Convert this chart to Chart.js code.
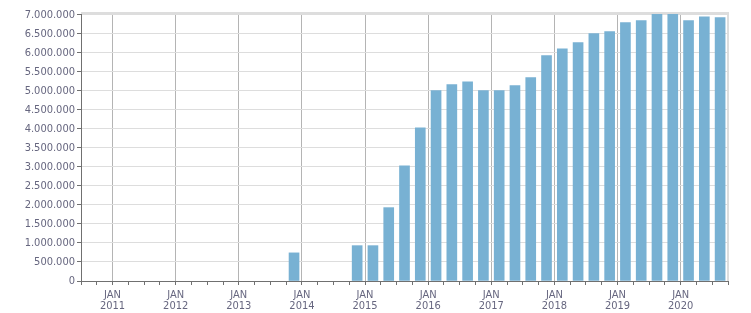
<!DOCTYPE html>
<html>
<head>
<meta charset="utf-8">
<script src="https://cdn.jsdelivr.net/npm/chart.js@4/dist/chart.umd.min.js"></script>
<style>
  html, body { margin: 0; padding: 0; background: #fff; }
  #wrap { width: 751px; height: 313px; }
</style>
</head>
<body>
<div id="wrap"><canvas id="chart"></canvas></div>
<script>
// quarterly values, Q3 2010 .. Q3 2020 (null = no bar)
const quarters = [
    '2010 Q3', '2010 Q4',
    '2011 Q1', '2011 Q2', '2011 Q3', '2011 Q4',
    '2012 Q1', '2012 Q2', '2012 Q3', '2012 Q4',
    '2013 Q1', '2013 Q2', '2013 Q3', '2013 Q4',
    '2014 Q1', '2014 Q2', '2014 Q3', '2014 Q4',
    '2015 Q1', '2015 Q2', '2015 Q3', '2015 Q4',
    '2016 Q1', '2016 Q2', '2016 Q3', '2016 Q4',
    '2017 Q1', '2017 Q2', '2017 Q3', '2017 Q4',
    '2018 Q1', '2018 Q2', '2018 Q3', '2018 Q4',
    '2019 Q1', '2019 Q2', '2019 Q3', '2019 Q4',
    '2020 Q1', '2020 Q2', '2020 Q3'
];
const values = [
    null, null,
    null, null, null, null,
    null, null, null, null,
    null, null, null, 740000,
    null, null, null, 930000,
    930000, 1930000, 3030000, 4030000,
    5010000, 5170000, 5240000, 5010000,
    5010000, 5140000, 5350000, 5930000,
    6110000, 6270000, 6510000, 6560000,
    6800000, 6850000, 7070000, 7070000,
    6850000, 6950000, 6930000
];
const yearLabels = ['2011', '2012', '2013', '2014', '2015', '2016', '2017', '2018', '2019', '2020'];
const monthLabel = 'JAN';
const yStep = 500000;
const yTop = 7000000;

const textColor = '#66667f';
const fontFamily = "Tahoma, 'DejaVu Sans Condensed', 'DejaVu Sans', sans-serif";

// place each quarter in the middle of its 3 months, on a year scale
const points = quarters.map(function (q, i) {
    let parts = q.split(' Q');
    let x = Number(parts[0]) + (Number(parts[1]) - 1) / 4 + 0.125;
    return { x: x, y: values[i] };
});

const isYear = v => Math.abs(v - Math.round(v)) < 1e-6;

const formatNum = v => String(v).replace(/\B(?=(\d{3})+(?!\d))/g, '.');

const frameBorder = {
    id: 'frameBorder',
    afterDraw(chart) {
        const { ctx, chartArea: a } = chart;
        ctx.save();
        ctx.strokeStyle = '#dddddd';
        ctx.lineWidth = 2;
        ctx.beginPath();
        ctx.moveTo(a.left, a.top);
        ctx.lineTo(a.right, a.top);
        ctx.lineTo(a.right, a.bottom);
        ctx.stroke();
        ctx.restore();
    }
};

new Chart(document.getElementById('chart'), {
    type: 'bar',
    data: {
        datasets: [{
            data: points,
            backgroundColor: '#78b1d3',
            barThickness: 10
        }]
    },
    options: {
        responsive: true,
        maintainAspectRatio: false,
        animation: false,
        layout: { padding: { top: 13, right: 23, left: 0, bottom: 0 } },
        plugins: {
            legend: { display: false },
            tooltip: { enabled: false }
        },
        scales: {
            x: {
                type: 'linear',
                min: 2010.5,
                max: 2020.75,
                offset: false,
                afterFit: s => { s.height = 32; },
                border: { color: '#707070', width: 1 },
                grid: {
                    offset: false,
                    color: c => (c.tick && isYear(c.tick.value)) ? '#b4b4b4' : 'rgba(0,0,0,0)',
                    tickColor: '#707070',
                    tickLength: 4
                },
                ticks: {
                    stepSize: 0.25,
                    autoSkip: false,
                    maxRotation: 0,
                    padding: 5,
                    color: textColor,
                    font: { family: fontFamily, size: 11, lineHeight: 1 },
                    callback: function (v) {
                        if (!isYear(v)) return '';
                        let y = String(Math.round(v));
                        return yearLabels.includes(y) ? [monthLabel, y] : '';
                    }
                }
            },
            y: {
                min: 0,
                max: 7050000,
                afterFit: s => { s.width = 81; },
                afterBuildTicks: s => {
                    let t = [];
                    for (let v = 0; v <= yTop; v += yStep) t.push({ value: v });
                    s.ticks = t;
                },
                border: { color: '#707070', width: 1 },
                grid: {
                    color: '#dddddd',
                    tickColor: '#707070',
                    tickLength: 4
                },
                ticks: {
                    padding: 2,
                    color: textColor,
                    font: { family: fontFamily, size: 11 },
                    callback: v => formatNum(v)
                }
            }
        }
    },
    plugins: [frameBorder]
});
</script>
</body>
</html>
